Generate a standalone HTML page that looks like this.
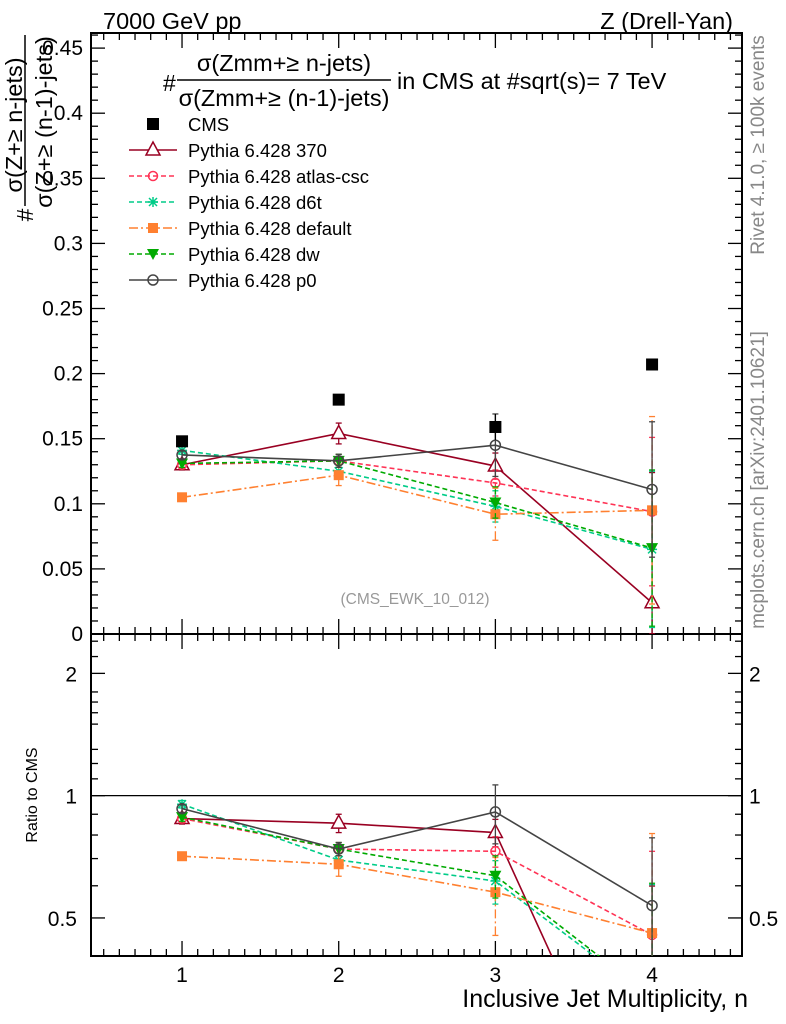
<!DOCTYPE html>
<html><head><meta charset="utf-8"><style>
html,body{margin:0;padding:0;background:#fff;width:786px;height:1024px;overflow:hidden}
svg{display:block;font-family:"Liberation Sans",sans-serif}
</style></head><body>
<svg id="chart" width="786" height="1024" viewBox="0 0 786 1024" xmlns="http://www.w3.org/2000/svg">
<defs>
<clipPath id="clipMain"><rect x="91" y="33" width="651" height="601"/></clipPath>
<clipPath id="clipRatio"><rect x="91" y="634" width="651" height="322"/></clipPath>
</defs>
<g id="frame"></g>
<g id="ticks"></g>
<g id="mainMarks" clip-path="url(#clipMain)"></g>
<g id="ratioMarks" clip-path="url(#clipRatio)"></g>
<g id="legend"></g>

<text x="103" y="29" font-size="23.5">7000 GeV pp</text>
<text x="733" y="29" font-size="23.5" text-anchor="end">Z (Drell-Yan)</text>

<g>
<text x="163" y="91" font-size="23">#</text>
<text x="284" y="71" font-size="23.5" text-anchor="middle">σ(Zmm+≥ n-jets)</text>
<line x1="177" y1="80" x2="391" y2="80" stroke="#000" stroke-width="1.5"/>
<text x="284" y="106" font-size="23.5" text-anchor="middle">σ(Zmm+≥ (n-1)-jets)</text>
<text x="397" y="89" font-size="23.5">in CMS at #sqrt(s)= 7 TeV</text>
</g>

<g>
<text transform="translate(22,125) rotate(-90)" font-size="23.5" text-anchor="middle">σ(Z+≥ n-jets)</text>
<line x1="25" y1="35" x2="25" y2="206" stroke="#000" stroke-width="1.5"/>
<text transform="translate(52,122) rotate(-90)" font-size="23.5" text-anchor="middle">σ(Z+≥ (n-1)-jets)</text>
<text transform="translate(33,215) rotate(-90)" font-size="23" text-anchor="middle">#</text>
</g>

<text transform="translate(37,795) rotate(-90)" font-size="16" text-anchor="middle">Ratio to CMS</text>
<text x="748" y="1007" font-size="25" text-anchor="end">Inclusive Jet Multiplicity, n</text>
<text x="415" y="604" font-size="15.5" fill="#999" text-anchor="middle">(CMS_EWK_10_012)</text>
<text transform="translate(764,145) rotate(-90)" font-size="19" fill="#888" text-anchor="middle">Rivet 4.1.0, ≥ 100k events</text>
<text transform="translate(764,480) rotate(-90)" font-size="19" fill="#888" text-anchor="middle">mcplots.cern.ch [arXiv:2401.10621]</text>
</svg>
<script>
const categories = [1, 2, 3, 4];
const cmsValues = [0.148, 0.180, 0.159, 0.207];
const cmsErrors = [0.003, 0.003, 0.010, 0.003];
const p370Values = [0.130, 0.154, 0.129, 0.024];
const p370Errors = [0.004, 0.008, 0.010, 0.100];
const atlasValues = [0.130, 0.133, 0.116, 0.094];
const atlasErrors = [0.003, 0.005, 0.010, 0.057];
const d6tValues = [0.141, 0.125, 0.098, 0.065];
const d6tErrors = [0.003, 0.005, 0.012, 0.060];
const defaultValues = [0.105, 0.122, 0.092, 0.095];
const defaultErrors = [0.002, 0.008, 0.020, 0.072];
const dwValues = [0.131, 0.133, 0.101, 0.066];
const dwErrors = [0.003, 0.005, 0.012, 0.060];
const p0Values = [0.1375, 0.133, 0.145, 0.111];
const p0Errors = [0.003, 0.005, 0.024, 0.052];
const mainTickLabels = ["0", "0.05", "0.1", "0.15", "0.2", "0.25", "0.3", "0.35", "0.4", "0.45"];
const ratioTickLabels = ["0.5", "1", "2"];
const xTickLabels = ["1", "2", "3", "4"];

const NS = "http://www.w3.org/2000/svg";
const L = 91, R = 742, MT = 33, MB = 634, RT = 634, RB = 956;
const xMin = 0.419, xMax = 4.574;
const yMax = 0.4616;
const rMin = 0.403, rMax = 2.5;
function xs(v){ return L + (v - xMin) / (xMax - xMin) * (R - L); }
function ys(v){ return MB - v / yMax * (MB - MT); }
function yr(v){ return RB - (Math.log(v) - Math.log(rMin)) / (Math.log(rMax) - Math.log(rMin)) * (RB - RT); }
function mk(tag, attrs, parent){ const e = document.createElementNS(NS, tag); for (const k in attrs) e.setAttribute(k, attrs[k]); parent.appendChild(e); return e; }

const frame = document.getElementById('frame');
const fr1 = mk('rect', {x:L, y:MT, width:R-L, height:MB-MT, fill:'none', stroke:'#000', 'stroke-width':2}, frame);


const fr2 = mk('rect', {x:L, y:RT, width:R-L, height:RB-RT, fill:'none', stroke:'#000', 'stroke-width':2}, frame);


const ref = mk('line', {x1:L, y1:yr(1), x2:R, y2:yr(1), stroke:'#000', 'stroke-width':1.3}, frame);



const ticks = document.getElementById('ticks');
function tl(x1,y1,x2,y2){ mk('line', {x1:x1,y1:y1,x2:x2,y2:y2,stroke:'#000','stroke-width':1.3}, ticks); }
for (let i = 5; i <= 45; i++) {
  const v = i / 10; const x = xs(v); const major = (i % 10 === 0); const len = major ? 15 : 7;
  tl(x, MB, x, MB - len); tl(x, MT, x, MT + len);
  tl(x, RB, x, RB - len); tl(x, RT, x, RT + len);
}
xTickLabels.forEach((lab, i) => {
  const t = mk('text', {x:xs(categories[i]), y:982, 'font-size':21, 'text-anchor':'middle'}, ticks);
  t.textContent = lab;
  
  
});
for (let i = 0; i <= 46; i++) {
  const v = i / 100; const y = ys(v); const major = (i % 5 === 0); const len = major ? 14 : 7;
  tl(L, y, L + len, y); tl(R, y, R - len, y);
}
mainTickLabels.forEach((lab, i) => {
  const t = mk('text', {x:83, y:ys(i*0.05)+7, 'font-size':21, 'text-anchor':'end'}, ticks);
  t.textContent = lab;
  
  
});
const rt = [0.5,0.6,0.7,0.8,0.9,1,1.1,1.2,1.3,1.5,1.6,1.7,1.8,2,2.2,2.4];
rt.forEach(v => { const y = yr(v); const major = (v===0.5||v===1||v===2); const len = major?14:7; tl(L,y,L+len,y); tl(R,y,R-len,y); });
[0.5,1,2].forEach((v,i) => {
  const t = mk('text', {x:77, y:yr(v)+8, 'font-size':21, 'text-anchor':'end'}, ticks);
  t.textContent = ratioTickLabels[i];
  
  
  const t2 = mk('text', {x:749, y:yr(v)+8, 'font-size':21}, ticks);
  t2.textContent = ratioTickLabels[i];
  
  
});

const series = [
  {name:'Pythia 6.428 370', key:'370', vals:p370Values, errs:p370Errors, color:'#990022', dash:'', marker:'triangle'},
  {name:'Pythia 6.428 atlas-csc', key:'atlas-csc', vals:atlasValues, errs:atlasErrors, color:'#ff3355', dash:'5,3', marker:'circle'},
  {name:'Pythia 6.428 d6t', key:'d6t', vals:d6tValues, errs:d6tErrors, color:'#00cc88', dash:'5,3', marker:'star'},
  {name:'Pythia 6.428 default', key:'default', vals:defaultValues, errs:defaultErrors, color:'#ff8030', dash:'9,3,2,3', marker:'square'},
  {name:'Pythia 6.428 dw', key:'dw', vals:dwValues, errs:dwErrors, color:'#00aa00', dash:'5,3', marker:'tridown'},
  {name:'Pythia 6.428 p0', key:'p0', vals:p0Values, errs:p0Errors, color:'#444444', dash:'', marker:'opencircle'}
];

function marker(g, type, x, y, color){
  let e;
  if (type === 'triangle') e = mk('path', {d:`M${x},${y-8} L${x+7},${y+5} L${x-7},${y+5} Z`, fill:'#fff', stroke:color, 'stroke-width':1.5}, g);
  else if (type === 'circle') e = mk('circle', {cx:x, cy:y, r:4.5, fill:'none', stroke:color, 'stroke-width':1.5}, g);
  else if (type === 'opencircle') e = mk('circle', {cx:x, cy:y, r:5, fill:'none', stroke:color, 'stroke-width':1.5}, g);
  else if (type === 'square') e = mk('rect', {x:x-5, y:y-5, width:10, height:10, fill:color}, g);
  else if (type === 'tridown') e = mk('path', {d:`M${x-6},${y-5} L${x+6},${y-5} L${x},${y+6} Z`, fill:color}, g);
  else if (type === 'cms') e = mk('rect', {x:x-6, y:y-6, width:12, height:12, fill:'#000'}, g);
  else if (type === 'star') e = mk('path', {d:`M${x-5},${y} L${x+5},${y} M${x},${y-5} L${x},${y+5} M${x-4},${y-4} L${x+4},${y+4} M${x-4},${y+4} L${x+4},${y-4}`, stroke:color, 'stroke-width':1.5}, g);
  return e;
}

function drawPanel(gid, yfun, getVals, getErrs, panel){
  const root = document.getElementById(gid);
  series.forEach(s => {
    const g = mk('g', {}, root);
    
    
    const vals = getVals(s), errs = getErrs(s);
    const pts = categories.map((c,i) => xs(c) + ',' + yfun(Math.max(vals[i], 1e-4))).join(' ');
    const pl = mk('polyline', {points:pts, fill:'none', stroke:s.color, 'stroke-width':1.6, 'stroke-dasharray':s.dash}, g);
    
    
    categories.forEach((c,i) => {
      const x = xs(c);
      const lo = Math.max(vals[i]-errs[i], 1e-4), hi = vals[i]+errs[i];
      mk('line', {x1:x, y1:yfun(lo), x2:x, y2:yfun(hi), stroke:s.color, 'stroke-width':1.3, 'stroke-dasharray':s.dash}, g);
      mk('line', {x1:x-3, y1:yfun(hi), x2:x+3, y2:yfun(hi), stroke:s.color, 'stroke-width':1.3}, g);
      mk('line', {x1:x-3, y1:yfun(lo), x2:x+3, y2:yfun(lo), stroke:s.color, 'stroke-width':1.3}, g);
      const m = marker(g, s.marker, x, yfun(Math.max(vals[i],1e-4)), s.color);
      
      
    });
  });
}

drawPanel('mainMarks', ys, s => s.vals, s => s.errs, 'main');
drawPanel('ratioMarks', yr, s => s.vals.map((v,i) => v / cmsValues[i]), s => s.errs.map((e,i) => e / cmsValues[i]), 'ratio');

const mm = document.getElementById('mainMarks');
const cg = mk('g', {}, mm);


categories.forEach((c,i) => {
  const x = xs(c);
  mk('line', {x1:x, y1:ys(cmsValues[i]-cmsErrors[i]), x2:x, y2:ys(cmsValues[i]+cmsErrors[i]), stroke:'#000', 'stroke-width':1.3}, cg);
  const m = marker(cg, 'cms', x, ys(cmsValues[i]), '#000');
  
  
});

const lg = document.getElementById('legend');
const rows = [{name:'CMS', marker:'cms', color:'#000', dash:null}].concat(series);
rows.forEach((s, i) => {
  const y = 124 + i * 26;
  const g = mk('g', {}, lg);
  
  
  if (s.dash !== null) mk('line', {x1:129, y1:y, x2:177, y2:y, stroke:s.color, 'stroke-width':1.6, 'stroke-dasharray':s.dash}, g);
  marker(g, s.marker, 153, y, s.color);
  const t = mk('text', {x:188, y:y+7, 'font-size':18.5}, g);
  t.textContent = s.name;
});
</script>
</body></html>
